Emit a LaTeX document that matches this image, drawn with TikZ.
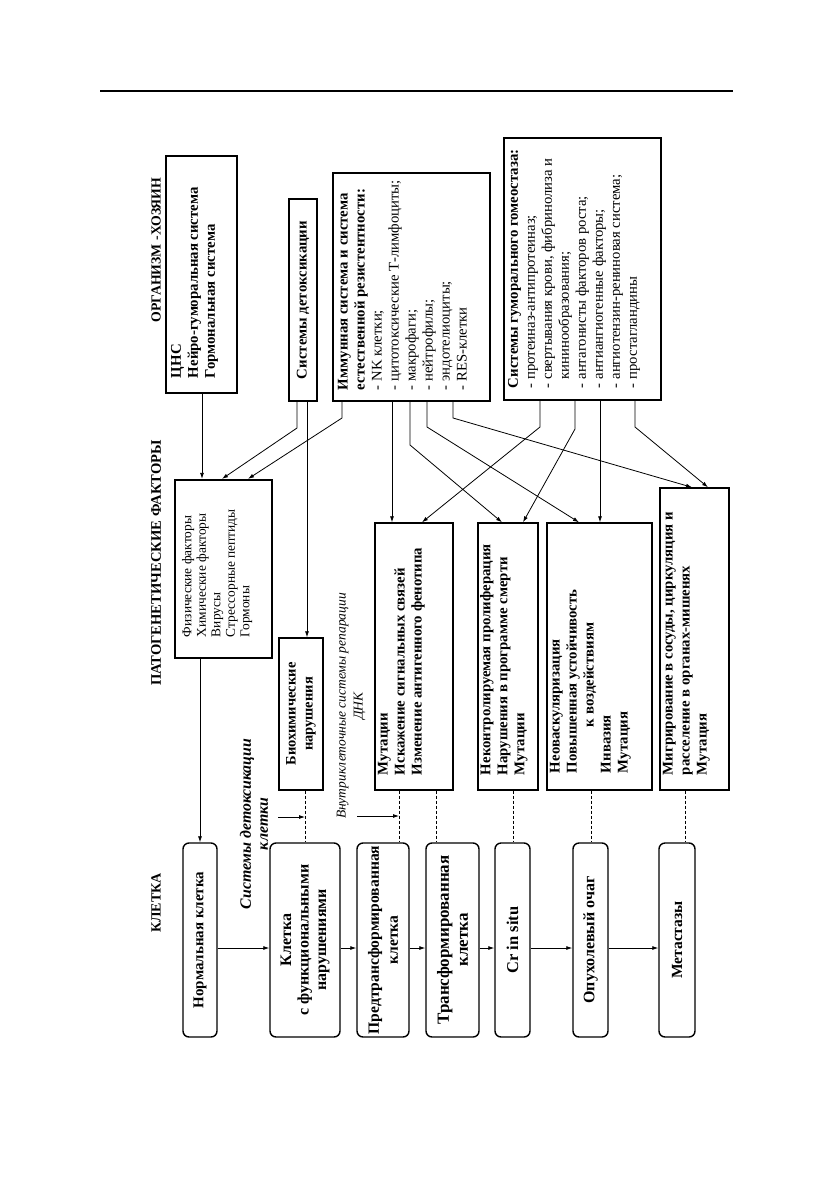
\documentclass[tikz,border=0pt]{standalone}
\usepackage{fontspec}
\setmainfont{Liberation Serif}
\usetikzlibrary{arrows.meta}
\newcommand{\tbx}[5]{\parbox[c][#2][t]{#1}{\vspace*{#3}\raggedright\setlength{\leftskip}{#4}#5\par}}
\newcommand{\fB}{\fontsize{14.8}{17}\selectfont\bfseries}
\newcommand{\fR}{\fontsize{14.7}{17}\selectfont\mdseries}
\newcommand{\fC}[2]{\fontsize{#1}{#2}\selectfont\bfseries}
\begin{document}
\begin{tikzpicture}[x=1pt,y=-1pt,
  thickbox/.style={draw, rotate=90, inner sep=0pt, line width=2.2pt},
  thinbox/.style={draw, rotate=90, inner sep=0pt, line width=1.4pt},
  cell/.style={draw, rotate=90, inner sep=0pt, line width=1.4pt, rounded corners=6pt,
    minimum width=194pt, align=center},
  head/.style={rotate=90},
  lab/.style={rotate=90, align=center},
  arr/.style={line width=0.8pt, -{Latex[length=6pt,width=4pt]}},
  dashline/.style={line width=0.8pt, dash pattern=on 3pt off 2pt}]
\useasboundingbox[fill=white] (0,0) rectangle (830,1178);
\draw[line width=2.5pt] (100,91) -- (733,91);

% headers
\node[head, font=\fC{13.8}{16}] (h1) at (156,250) {ОРГАНИЗМ -ХОЗЯИН};
\node[head, font=\fC{14.6}{17}] (h2) at (156,563) {ПАТОГЕНЕТИЧЕСКИЕ ФАКТОРЫ};
\node[head, font=\fC{14}{16}] (h3) at (156,903) {КЛЕТКА};

% top boxes
\node[thickbox] (cns) at (201.5,274.5) {\tbx{237pt}{71pt}{5pt}{15pt}{\fB ЦНС\\Нейро-гуморальная система\\Гормональная система}};
\node[thickbox, minimum width=202pt, minimum height=28pt, font=\fB] (detox) at (303,300) {Системы детоксикации};
\node[thickbox] (imm) at (411.5,287) {\tbx{228pt}{157pt}{5pt}{11pt}{\fB Иммунная система и система\\естественной резистентности:\\\fR - NK клетки;\\- цитотоксические Т-лимфоциты;\\- макрофаги;\\- нейтрофилы;\\- эндотелиоциты;\\- RES-клетки}};
\node[thickbox] (hum) at (582.5,269) {\tbx{262pt}{157pt}{4pt}{12pt}{\fB Системы гуморального гомеостаза:\\\fR - протеиназ-антипротеиназ;\\- свертывания крови, фибринолиза и\\\phantom{- }кининообразования;\\- антагонисты факторов роста;\\- антиангиогенные факторы;\\- ангиотензин-рениновая система;\\- простагландины}};

% factor box
\node[thickbox] (fac) at (223.5,569) {\tbx{178pt}{97pt}{7pt}{21pt}{\fontsize{13.4}{14.5}\selectfont Физические факторы\\Химические факторы\\Вирусы\\Стрессорные пептиды\\Гормоны}};

% middle boxes
\node[thinbox, minimum width=152pt, minimum height=44pt, align=center, font=\fC{14.5}{17}] (bio) at (301,714) {Биохимические\\нарушения};
\node[thinbox] (b1) at (414,656.5) {\tbx{267pt}{78pt}{3pt}{15pt}{\fB Мутации\\Искажение сигнальных связей\\Изменение антигенного фенотипа}};
\node[thinbox] (b2) at (508,656.5) {\tbx{267pt}{60pt}{2pt}{15pt}{\fB Неконтролируемая пролиферация\\Нарушения в программе смерти\\Мутации}};
\node[thinbox] (b3) at (599.5,656.5) {\tbx{267pt}{105pt}{3pt}{17pt}{\fB Неоваскуляризация\\Повышенная устойчивость\\\hspace*{46pt}к воздействиям\\Инвазия\\Мутация}};
\node[thinbox] (b4) at (694.5,639) {\tbx{302pt}{69pt}{3pt}{15pt}{\fB Мигрирование в сосуды, циркуляция и\\расселение в органах-мишенях\\Мутация}};

% cell boxes
\node[cell, minimum height=34pt, font=\fC{15}{17}] (norm) at (200,940) {Нормальная клетка};
\node[cell, minimum height=70pt, font=\fC{16}{17.5}] (func) at (305,940) {Клетка\\с функциональными\\нарушениями};
\node[cell, minimum height=52pt, font=\fC{15.6}{19}] (pre) at (383,940) {Предтрансформированная\\клетка};
\node[cell, minimum height=53pt, font=\fC{17}{19}] (trans) at (452.5,940) {Трансформированная\\клетка};
\node[cell, minimum height=35pt, font=\fC{16.5}{19}] (cr) at (512.5,940) {Cr in situ};
\node[cell, minimum height=35pt, font=\fC{16}{18}] (tum) at (590.5,940) {Опухолевый очаг};
\node[cell, minimum height=36pt, font=\fC{15.5}{18}] (meta) at (677,940) {Метастазы};

% italic labels
\node[lab, font=\fontsize{15.8}{17}\selectfont\bfseries\itshape] (ldet) at (254,824) {Системы детоксикации\\клетки};
\node[lab, font=\fontsize{13.5}{17}\selectfont\itshape] (lrep) at (351,706) {Внутриклеточные системы репарации\\ДНК};
\coordinate (adet) at (278,817);
\coordinate (arep) at (357,816);

% connectors from top boxes
\draw[arr] (cns.west -| 202,0) -- (fac.east -| 202,0);
\draw[arr] (detox.west -| 297,0) -- (297,428) -- (fac.east -| 222,0);
\draw[arr] (imm.west -| 342,0) -- (342,418) -- (fac.east -| 248,0);
\draw[arr] (detox.west -| 307,0) -- (bio.east -| 307,0);
\draw[arr] (imm.west -| 392,0) -- (b1.east -| 392,0);
\draw[arr] (imm.west -| 410,0) -- (410,445) -- (b2.east -| 502,0);
\draw[arr] (imm.west -| 427,0) -- (427,427) -- (b3.east -| 579,0);
\draw[arr] (imm.west -| 453,0) -- (453,418) -- (b4.east -| 692,0);
\draw[arr] (hum.west -| 540,0) -- (540,427) -- (b1.east -| 422,0);
\draw[arr] (hum.west -| 575,0) -- (575,429) -- (b2.east -| 523,0);
\draw[arr] (hum.west -| 600,0) -- (b3.east -| 600,0);
\draw[arr] (hum.west -| 635,0) -- (635,427) -- (b4.east -| 708,0);
\draw[arr] (fac.west -| 200,0) -- (norm.east);

% dashed links
\draw[dashline] (bio.west -| 305,0) -- (func.east -| 305,0);
\draw[dashline] (b1.west -| 399,0) -- (pre.east -| 399,0);
\draw[dashline] (b1.west -| 436,0) -- (trans.east -| 436,0);
\draw[dashline] (b2.west -| 513,0) -- (cr.east -| 513,0);
\draw[dashline] (b3.west -| 591,0) -- (tum.east -| 591,0);
\draw[dashline] (b4.west -| 685,0) -- (meta.east -| 685,0);

% label arrows
\draw[arr] (adet) -- (adet -| 305,0);
\draw[arr] (arep) -- (arep -| 399,0);

% cell chain
\draw[arr] (norm.south |- 0,948) -- (func.north |- 0,948);
\draw[arr] (func.south |- 0,948) -- (pre.north |- 0,948);
\draw[arr] (pre.south |- 0,948) -- (trans.north |- 0,948);
\draw[arr] (trans.south |- 0,948) -- (cr.north |- 0,948);
\draw[arr] (cr.south |- 0,948) -- (tum.north |- 0,948);
\draw[arr] (tum.south |- 0,948) -- (meta.north |- 0,948);
\end{tikzpicture}
\end{document}
